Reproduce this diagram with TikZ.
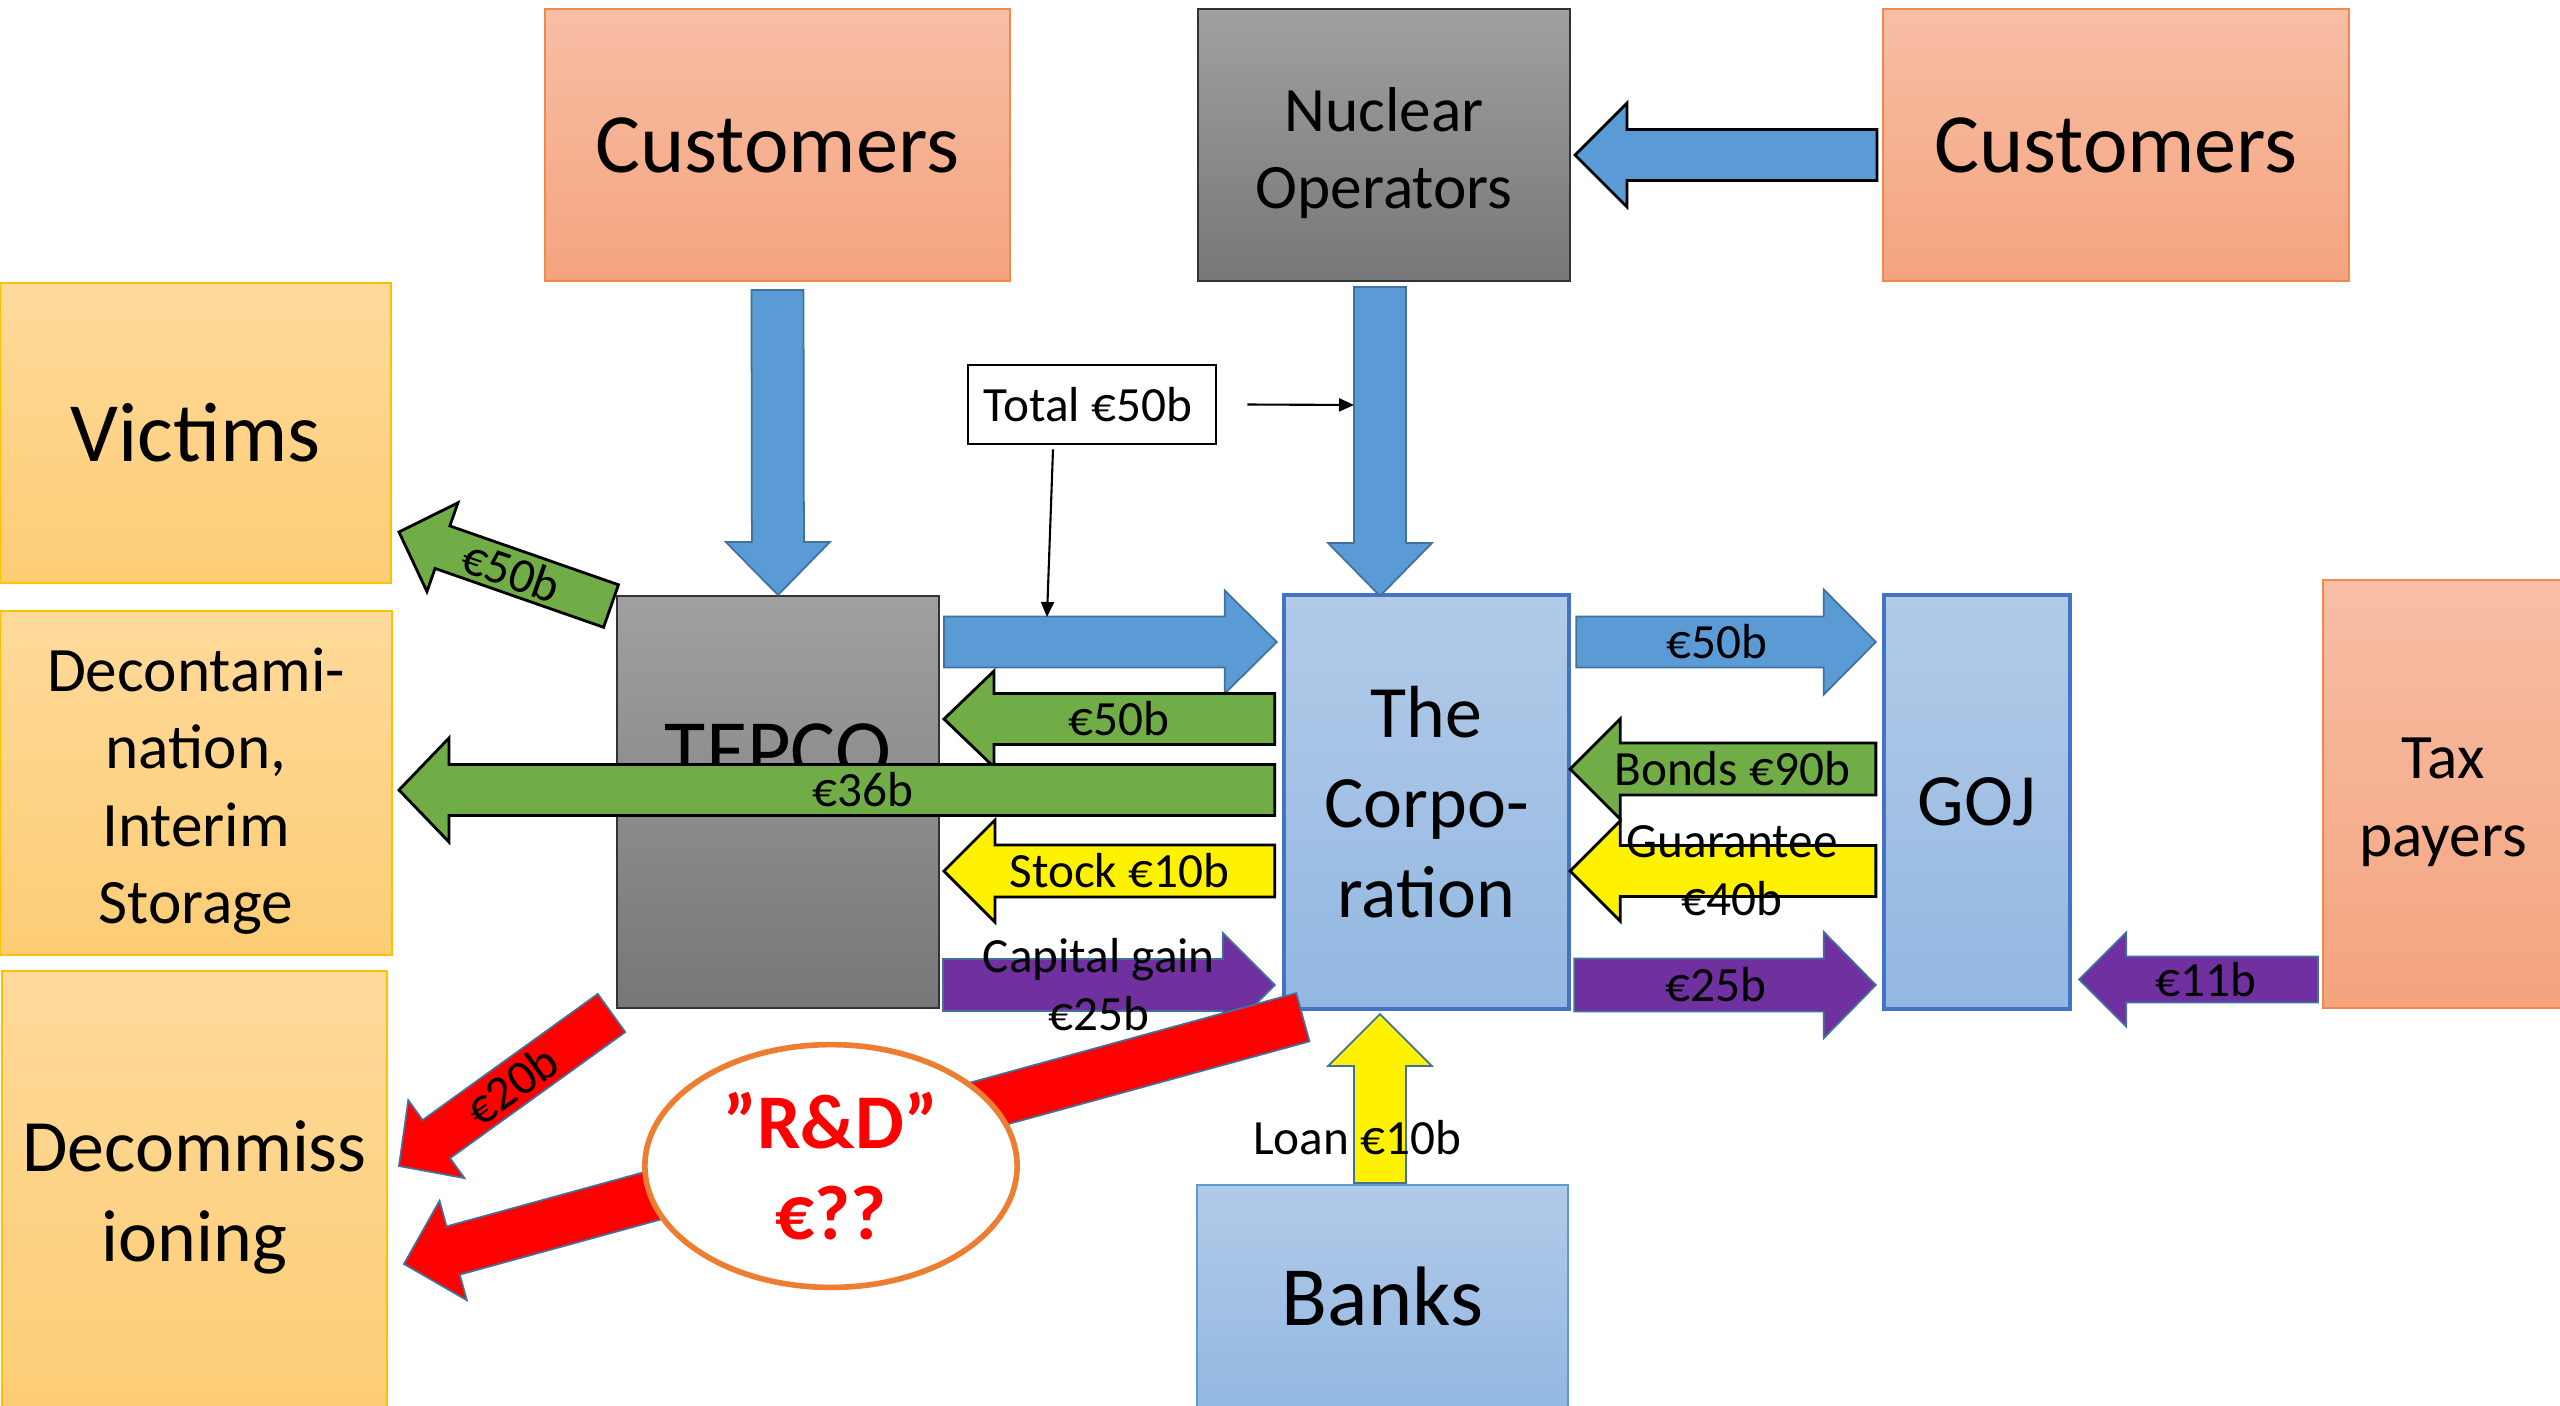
\documentclass[tikz,border=0pt]{standalone}
\usepackage{fontspec}
\setmainfont{Carlito}
\usetikzlibrary{calc,arrows.meta,shapes.geometric}

\definecolor{peachtop}{HTML}{F8BEA5}
\definecolor{peachbot}{HTML}{F4A47E}
\definecolor{peachline}{HTML}{F08A4B}
\definecolor{goldtop}{HTML}{FFDA9B}
\definecolor{goldbot}{HTML}{FDCD75}
\definecolor{goldline}{HTML}{FFC000}
\definecolor{greytop}{HTML}{A0A0A0}
\definecolor{greybot}{HTML}{777777}
\definecolor{skytop}{HTML}{B2CAE8}
\definecolor{skybot}{HTML}{93B8E2}
\definecolor{skyline}{HTML}{4472C4}
\definecolor{flowblue}{HTML}{5B9BD5}
\definecolor{flowedge}{HTML}{41719C}
\definecolor{flowgreen}{HTML}{70AD47}
\definecolor{flowpurple}{HTML}{7030A0}
\definecolor{rdorange}{HTML}{ED7D31}

\def\fatarrow[#1](#2)(#3)(#4:#5:#6)#7{%
  \coordinate (fa-tail) at (#2);
  \coordinate (fa-tip) at (#3);
  \coordinate (fa-base) at ($(fa-tip)!#6!(fa-tail)$);
  \draw[#1] ($(fa-tail)!#4!90:(fa-tip)$) -- ($(fa-base)!#4!90:(fa-tip)$) -- ($(fa-base)!#5!90:(fa-tip)$) -- (fa-tip)
    -- ($(fa-base)!#5!-90:(fa-tip)$) -- ($(fa-base)!#4!-90:(fa-tip)$) -- ($(fa-tail)!#4!-90:(fa-tip)$) -- cycle;
  \path (fa-tail) -- node[flowtext, sloped, pos=0.47] {#7} (fa-tip);}

\tikzset{
  panel/.style={draw, line width=0.5pt, align=center, inner sep=0pt},
  peachbox/.style={panel, draw=peachline, top color=peachtop, bottom color=peachbot},
  goldbox/.style={panel, draw=goldline, top color=goldtop, bottom color=goldbot},
  greybox/.style={panel, draw=black!80, top color=greytop, bottom color=greybot},
  skybox/.style={panel, draw=skyline, top color=skytop, bottom color=skybot},
  bigtext/.style={font=\fontsize{24}{29}\selectfont},
  midtext/.style={font=\fontsize{21}{25.5}\selectfont},
  smalltext/.style={font=\fontsize{18}{22}\selectfont},
  flowtext/.style={font=\fontsize{14}{16.5}\selectfont, align=center, inner sep=0pt},
  blueflow/.style={fill=flowblue, draw=flowedge, line width=0.5pt},
  blueflowdark/.style={fill=flowblue, draw=black, line width=0.8pt},
  greenflow/.style={fill=flowgreen, draw=black, line width=0.8pt},
  yellowflow/.style={fill=yellow, draw=black, line width=0.8pt},
  purpleflow/.style={fill=flowpurple, draw=flowedge, line width=0.5pt},
  redflow/.style={fill=red, draw=flowedge, line width=0.5pt},
  pointer/.style={line width=0.6pt, -{Triangle[length=0.15cm, width=0.13cm]}}
}

\begin{document}
\begin{tikzpicture}[x=0.01cm, y=-0.01cm]
		%%%%% START %%%%%
		\useasboundingbox (0,0) rectangle (2560,1405);
		
		\node[peachbox, bigtext, minimum width=4.65cm, minimum height=2.72cm] (custL) at (777.5,145) {Customers};
		\node[greybox, smalltext, minimum width=3.72cm, minimum height=2.72cm] (nucop) at (1384,145) {\rule{0pt}{0.6cm}Nuclear\\Operators};
		\node[peachbox, bigtext, minimum width=4.66cm, minimum height=2.72cm] (custR) at (2116,145) {Customers};
		
		\node[goldbox, bigtext, minimum width=3.91cm, minimum height=3cm] (victims) at (195.5,433) {Victims};
		\node[goldbox, smalltext, minimum width=3.92cm, minimum height=3.44cm] (decon) at (196,783) {\rule{0pt}{0.6cm}Decontami-\\nation,\\Interim\\Storage};
		\node[goldbox, midtext, minimum width=3.85cm, minimum height=4.36cm] (decom) at (194.5,1189) {\rule{0pt}{0.68cm}Decommiss\\ioning};
		
		\node[greybox, bigtext, minimum width=3.22cm, minimum height=4.12cm] (tepco) at (778,802) {TEPCO\\~};
		\node[skybox, midtext, line width=1.2pt, minimum width=2.85cm, minimum height=4.14cm] (corp) at (1426.5,802) {The\\Corpo-\\ration};
		\node[skybox, midtext, line width=1.2pt, minimum width=1.86cm, minimum height=4.14cm] (goj) at (1977,802) {GOJ};
		\node[peachbox, smalltext, minimum width=2.4cm, minimum height=4.28cm] (tax) at (2443,794) {\rule{0pt}{0.57cm}Tax\\payers};
		\node[skybox, draw=flowblue, bigtext, minimum width=3.71cm, minimum height=2.22cm] (banks) at (1382.5,1296) {Banks};
		
		\node[draw=black, line width=0.8pt, fill=white, flowtext, minimum width=2.48cm, minimum height=0.79cm] (total) at (1092,404.5) {Total €50b\hspace{0.08cm}};
		
		% money into the system
		\fatarrow[blueflow]($(custL.south)+(0,8)$)(tepco.north)(0.26cm:0.52cm:0.53cm){}
		\fatarrow[blueflow]($(nucop.south)+(-4,5)$)($(nucop.south)+(-4,314)$)(0.26cm:0.52cm:0.53cm){}
		\fatarrow[blueflowdark]($(custR.west)+(-5,10)$)($(nucop.east)+(4,10)$)(0.255cm:0.52cm:0.52cm){}
		
		% TEPCO <-> Corporation
		\fatarrow[blueflow]($(tepco.east)+(4,-160)$)($(corp.west)+(-5,-160)$)(0.255cm:0.515cm:0.52cm){}
		\fatarrow[greenflow]($(corp.west)+(-7,-83)$)($(tepco.east)+(4,-83)$)(0.255cm:0.48cm:0.5cm){€50b}
		\fatarrow[greenflow]($(corp.west)+(-7,-12)$)($(decon.east)+(6,7)$)(0.255cm:0.52cm:0.5cm){€36b}
		\fatarrow[yellowflow]($(corp.west)+(-7,69)$)($(tepco.east)+(4,69)$)(0.26cm:0.51cm:0.51cm){Stock €10b}
		\fatarrow[purpleflow]($(tepco.east)+(3,183)$)($(corp.west)+(-7,183)$)(0.26cm:0.52cm:0.52cm){Capital gain\\€25b}
		
		% Corporation <-> GOJ
		\fatarrow[blueflow]($(corp.east)+(5,-160)$)($(goj.west)+(-6,-160)$)(0.255cm:0.525cm:0.52cm){€50b}
		\fatarrow[greenflow]($(goj.west)+(-6,-33)$)($(corp.east)+(-1,-33)$)(0.26cm:0.5cm:0.5cm){Bonds €90b}
		\fatarrow[yellowflow]($(goj.west)+(-6,69)$)($(corp.east)+(-1,69)$)(0.255cm:0.5cm:0.5cm){Guarantee\\€40b}
		\fatarrow[purpleflow]($(corp.east)+(3,183)$)($(goj.west)+(-6,183)$)(0.265cm:0.53cm:0.52cm){€25b}
		\fatarrow[purpleflow]($(tax.west)+(-4,185.5)$)($(goj.east)+(7,177.5)$)(0.23cm:0.47cm:0.47cm){€11b}
		
		\fatarrow[yellowflow, draw=flowedge, line width=0.5pt]($(banks.north)+(-2.5,-1)$)($(banks.north)+(-2.5,-170)$)(0.26cm:0.52cm:0.52cm){}
		\node[flowtext] (loanlbl) at (1357,1138) {Loan €10b};
		
		% money out to the victims and the clean-up
		\fatarrow[greenflow]($(tepco.north west)+(-5,11)$)($(victims.east)+(7,99)$)(0.225cm:0.47cm:0.46cm){€50b}
		\fatarrow[redflow]($(tepco.south west)+(-4.5,4)$)($(decom.east)+(11,-23)$)(0.235cm:0.48cm:0.46cm){€20b}
		\fatarrow[redflow]($(corp.south west)+(21,6)$)($(decom.east)+(16,75)$)(0.25cm:0.515cm:0.51cm){}
		
		\node[ellipse, draw=rdorange, line width=1.6pt, fill=white, minimum width=3.72cm, minimum height=2.2cm,
			text=red, align=center, font=\fontsize{22}{26}\selectfont\bfseries] (rnd) at (831,1166) {”R\&D”\\€??};
		
		\draw[pointer] ($(total.south)+(-39,4)$) -- ($(tepco.east)+(107,-185)$);
		\draw[pointer] ($(total.east)+(30,0)$) -- ($(nucop.south)+(-30,123)$);
		
		%%%%% END %%%%%
	\end{tikzpicture}
\end{document}
